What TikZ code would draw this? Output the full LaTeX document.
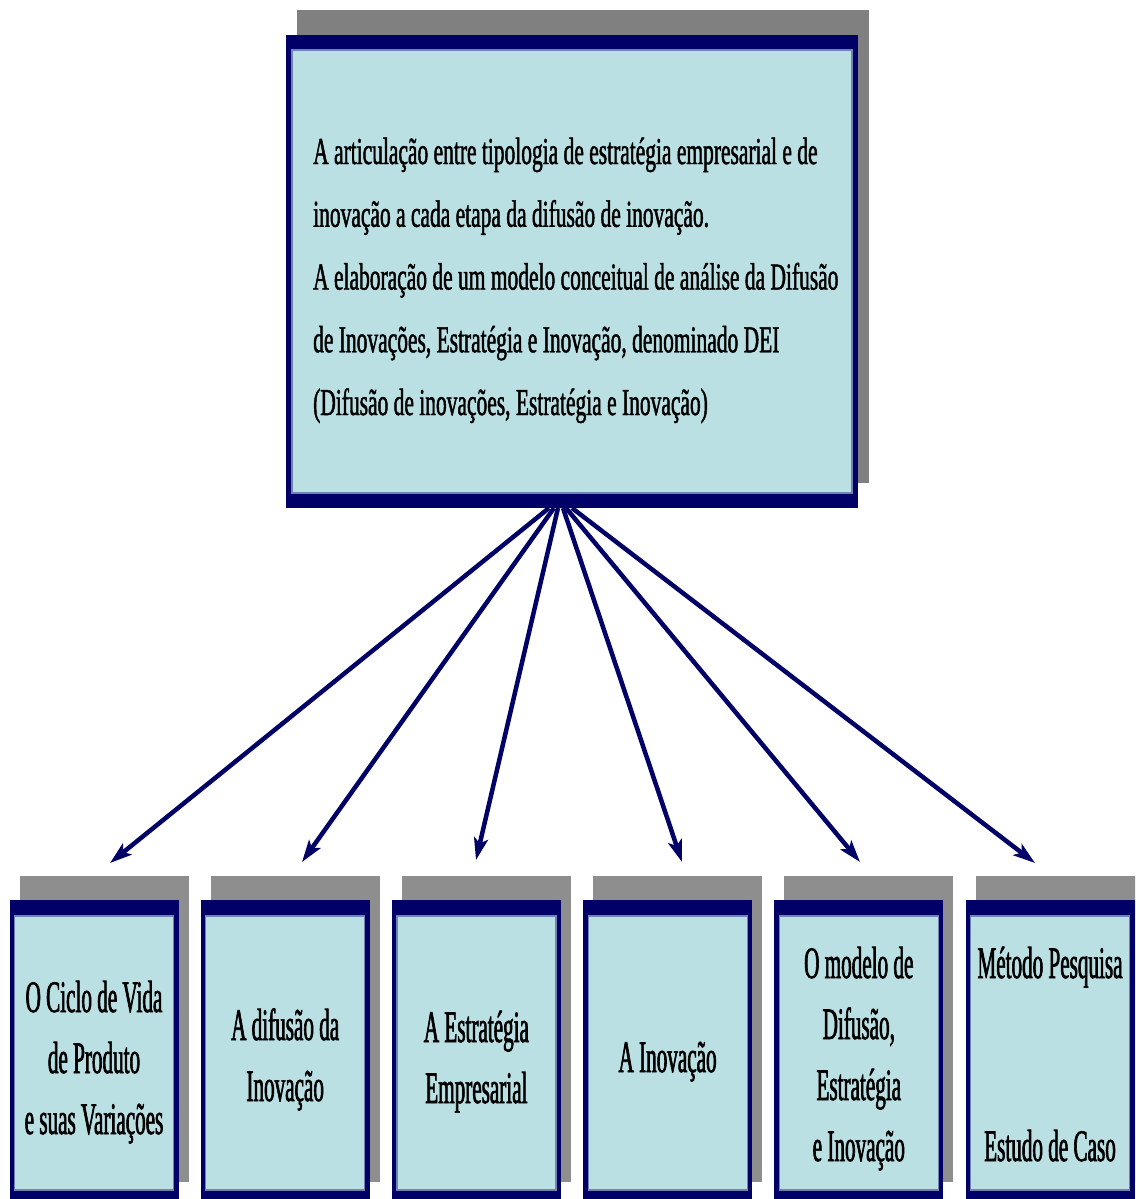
\documentclass[tikz,border=0pt]{standalone}
\usepackage{fontspec}
\setmainfont{Liberation Serif}
\newfontfamily\topfont[FakeStretch=0.565,FakeBold=1.2]{Liberation Serif}
\newfontfamily\lowfont[FakeStretch=0.47,FakeBold=1.4]{Liberation Serif}
\usetikzlibrary{arrows.meta,calc,shadows}

\definecolor{navy}{HTML}{000066}
\definecolor{boxfill}{HTML}{BAE0E3}
\definecolor{edgeblue}{HTML}{7083B3}
\definecolor{topshadow}{HTML}{808080}
\definecolor{lowshadow}{HTML}{8E8E8E}

\tikzset{
  framebox/.style={rectangle, fill=navy, inner sep=0pt, outer sep=0pt},
  topshade/.style={drop shadow={fill=topshadow, opacity=1, shadow xshift=11pt, shadow yshift=25pt, shadow scale=1}},
  lowshade/.style={drop shadow={fill=lowshadow, opacity=1, shadow xshift=10pt, shadow yshift=24pt, shadow scale=1}},
  lowbox/.style={framebox, lowshade, minimum width=169pt, minimum height=306pt, anchor=north},
  toptext/.style={inner sep=0pt, anchor=base west, font=\topfont\fontsize{38}{62.75}\selectfont},
  lowtext/.style={inner sep=0pt, anchor=base, font=\lowfont\fontsize{45}{61}\selectfont},
  link/.style={navy, line width=4.5pt, -{Stealth[length=22pt, width=14pt, inset=5pt]}}
}

% inner panel of a framed box: side band sx, top/bottom band sy
\newcommand{\panel}[3]{%
  \fill[boxfill] ($(#1.north west)+(#2,#3)$) rectangle ($(#1.south east)+(-#2,-#3)$);
  \draw[edgeblue, line width=1.2pt] ($(#1.north west)+(#2,#3)$) rectangle ($(#1.south east)+(-#2,-#3)$);
}

\begin{document}
\begin{tikzpicture}[x=1pt, y=-1pt]
\useasboundingbox (0,0) rectangle (1135,1199);
\begin{scope}
\clip (0,0) rectangle (1135,1199);

% top box
\node[framebox, topshade, minimum width=572pt, minimum height=473pt, anchor=north west] (top) at (286,35) {};
\panel{top}{6}{15}
\node[toptext] (toptxt) at (313,164) {%
  \begin{tabular}[t]{@{}l@{}}
  A articulação entre tipologia de estratégia empresarial e de\\
  inovação a cada etapa da difusão de inovação.\\
  A elaboração de um modelo conceitual de análise da Difusão\\
  de Inovações, Estratégia e Inovação, denominado DEI\\
  (Difusão de inovações, Estratégia e Inovação)
  \end{tabular}};

% lower boxes
\node[lowbox] (b1) at (94,900) {};
\node[lowbox] (b2) at (285.2,900) {};
\node[lowbox] (b3) at (476.4,900) {};
\node[lowbox] (b4) at (667.6,900) {};
\node[lowbox] (b5) at (858.8,900) {};
\node[lowbox] (b6) at (1050,900) {};
\foreach \b in {b1,b2,b3,b4,b5,b6} {\panel{\b}{5}{16}}

\node[lowtext] (t1) at (94,1012) {\begin{tabular}[t]{@{}c@{}}O Ciclo de Vida\\ de Produto\\ e suas Variações\end{tabular}};
\node[lowtext] (t2) at (285.2,1040) {\begin{tabular}[t]{@{}c@{}}A difusão da\\ Inovação\end{tabular}};
\node[lowtext] (t3) at (476.4,1042) {\begin{tabular}[t]{@{}c@{}}A Estratégia\\ Empresarial\end{tabular}};
\node[lowtext] (t4) at (667.6,1072) {A Inovação};
\node[lowtext] (t5) at (858.8,978) {\begin{tabular}[t]{@{}c@{}}O modelo de\\ Difusão,\\ Estratégia\\ e Inovação\end{tabular}};
\node[lowtext] (t6) at (1050,978) {\begin{tabular}[t]{@{}c@{}}Método Pesquisa\\ \\ \\ Estudo de Caso\end{tabular}};

% arrow ends above the lower boxes
\coordinate (e1) at (110,863);
\coordinate (e2) at (302,862);
\coordinate (e3) at (476,860);
\coordinate (e4) at (682,862);
\coordinate (e5) at (860,862);
\coordinate (e6) at (1035,863);

\draw[link] ($(top.south)+(-23,0)$) -- (e1);
\draw[link] ($(top.south)+(-18,0)$) -- (e2);
\draw[link] ($(top.south)+(-14,0)$) -- (e3);
\draw[link] ($(top.south)+(-9,0)$) -- (e4);
\draw[link] ($(top.south)+(-6,0)$) -- (e5);
\draw[link] ($(top.south)+(0,0)$) -- (e6);
\end{scope}
\end{tikzpicture}
\end{document}
